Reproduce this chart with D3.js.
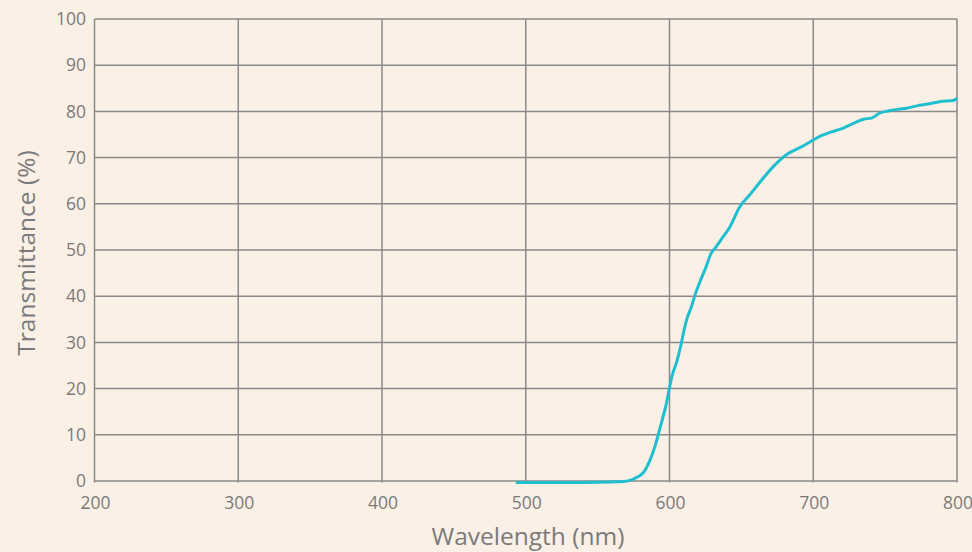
<!DOCTYPE html>
<html><head><meta charset="utf-8">
<script src="https://cdn.jsdelivr.net/npm/d3@7"></script>
<style>
html,body{margin:0;padding:0;background:#FBF0E6;}
svg{display:block;}
text{font-family:"Open Sans",sans-serif;fill:#7a7a7a;}
</style></head>
<body>
<svg id="chart" width="972" height="552"></svg>
<script>
const wavelength = [493,500,520,540,560,568,574,578,582,586,590,593,595,598,600,602,605,608,610,612,615,618,621,625,629,632,636,642,649,656,664,672,682,691,700,706,712,721,728,735,741,746,752,760,765,772,780,788,795,798,800];
const transmittance = [-0.3,-0.3,-0.3,-0.3,-0.2,-0.1,0.3,0.9,1.9,4.2,7.6,11,13.3,17,20.2,23,25.8,29.5,32.5,35,37.5,40.5,43,46,49.3,50.5,52.3,55,59.4,62,65.1,68,70.8,72.2,73.8,74.8,75.5,76.4,77.4,78.3,78.6,79.6,80.1,80.5,80.7,81.2,81.6,82.1,82.3,82.4,82.9];
const xTicks = [200,300,400,500,600,700,800];
const yTicks = [0,10,20,30,40,50,60,70,80,90,100];

const svg = d3.select("#chart");
const x = d3.scaleLinear().domain([200,800]).range([94.5,957]);
const y = d3.scaleLinear().domain([0,100]).range([481,19]);
const grid = "#8a8a8a";

svg.append("g").selectAll("line").data(xTicks).join("line")
  .attr("x1",d=>x(d)).attr("x2",d=>x(d)).attr("y1",y(100)).attr("y2",y(0)+1.5)
  .attr("stroke",grid).attr("stroke-width",1.5);
svg.append("g").selectAll("line").data(yTicks).join("line")
  .attr("x1",x(200)).attr("x2",x(800)).attr("y1",d=>y(d)).attr("y2",d=>y(d))
  .attr("stroke",grid).attr("stroke-width",1.5);

svg.append("g").selectAll("text").data(yTicks).join("text")
  .attr("x",86).attr("y",d=>y(d)).attr("dy","0.35em").attr("text-anchor","end")
  .attr("font-size",17.5).text(d=>d);
svg.append("g").selectAll("text").data(xTicks).join("text")
  .attr("x",d=>x(d)+1).attr("y",509).attr("text-anchor","middle")
  .attr("font-size",17.5).text(d=>d);

svg.append("text").attr("x",528).attr("y",545).attr("text-anchor","middle")
  .attr("font-size",24.5).text("Wavelength (nm)");
svg.append("text").attr("transform","translate(35,253) rotate(-90)").attr("text-anchor","middle")
  .attr("font-size",24.5).text("Transmittance (%)");

const line = d3.line().x((d,i)=>x(wavelength[i])).y(d=>y(d)).curve(d3.curveMonotoneX);
svg.append("path").datum(transmittance).attr("d",line)
  .attr("fill","none").attr("stroke","#1fbfd0").attr("stroke-width",3).attr("stroke-linejoin","round");
</script>
</body></html>
